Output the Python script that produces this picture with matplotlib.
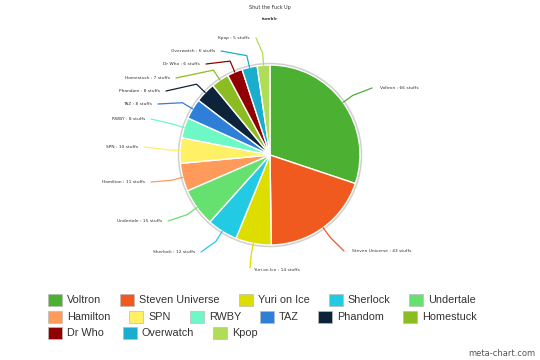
import matplotlib.pyplot as plt
import numpy as np
from matplotlib.patches import Rectangle, Circle

names = ["Voltron", "Steven Universe", "Yuri on Ice", "Sherlock", "Undertale",
         "Hamilton", "SPN", "RWBY", "TAZ", "Phandom", "Homestuck",
         "Dr Who", "Overwatch", "Kpop"]
counts = [66, 43, 14, 12, 15, 11, 10, 8, 8, 8, 7, 6, 6, 5]
colors = ["#4cb032", "#f05a1e", "#dddd00", "#22cbe3", "#66e06e",
          "#ff9a5a", "#fff066", "#6ef8c6", "#2f7ed8", "#0d233a", "#8bbc21",
          "#910000", "#1aadce", "#b0dd58"]

# label anchor (x, y, ha) in pixels, y measured from bottom
label_pos = [(380, 272, 'left'), (352, 109, 'left'), (277, 90, 'center'),
             (195, 108, 'right'), (162, 139, 'right'), (145, 178, 'right'),
             (138, 213, 'right'), (145, 241, 'right'), (152, 256, 'right'),
             (160, 269, 'right'), (170, 282, 'right'), (200, 296, 'right'),
             (215, 309, 'right'), (250, 322, 'right')]

fig = plt.figure(figsize=(5.4, 3.6), dpi=100)
ax = fig.add_axes([0, 0, 1, 1])

cx, cy, r = 270, 205, 90
ax.add_patch(Circle((cx, cy), r + 1.2, fc='none', ec='#d0d0d0', lw=1.5, zorder=0))
wedges, _ = ax.pie(counts, colors=colors, startangle=90, counterclock=False,
                   center=(cx, cy), radius=r, frame=True,
                   wedgeprops=dict(edgecolor='white', linewidth=1))
ax.set_xlim(0, 540)
ax.set_ylim(0, 360)
ax.set_aspect('equal')
ax.axis('off')

for w, name, n, col, (lx, ly, ha) in zip(wedges, names, counts, colors, label_pos):
    mid = np.deg2rad((w.theta1 + w.theta2) / 2)
    px, py = cx + r * np.cos(mid), cy + r * np.sin(mid)
    bx, by = cx + (r + 12) * np.cos(mid), cy + (r + 12) * np.sin(mid)
    if ha == 'left':
        ex, ey = lx - 8, ly
    elif ha == 'right':
        ex, ey = lx + 6, ly
    else:
        ex, ey = lx - 27, ly + 2
    ax.plot([px, bx, ex], [py, by, ey], color=col, lw=0.9, solid_capstyle='round')
    ax.text(lx, ly, f"{name} : {n} stuffs", fontsize=3.2, color='#333333',
            ha=ha, va='center')

ax.text(270, 352, "Shut the Fuck Up", fontsize=3.5, color='#333333', ha='center', va='center')
ax.text(270, 341, "tumblr", fontsize=3, color='#333333', ha='center', va='center',
        fontweight='bold')

# legend, flow layout
leg_font = dict(fontsize=7.8, family='Liberation Sans', color='#333333', va='center')
fig.canvas.draw()
renderer = fig.canvas.get_renderer()
x0, x, row_y = 48, 48, 60
max_x = 495
for name, col in zip(names, colors):
    t = ax.text(0, 0, name, **leg_font)
    tw = t.get_window_extent(renderer).width
    t.remove()
    if x + 19 + tw > max_x:
        x = x0
        row_y -= 16.5
    ax.add_patch(Rectangle((x, row_y - 6), 14, 12, fc=col, ec='#bbbbbb', lw=0.5))
    ax.text(x + 19, row_y, name, **leg_font)
    x += 19 + tw + 19

ax.text(535, 7, "meta-chart.com", fontsize=6, color='#555555', ha='right', va='center')

fig.savefig("out.png", dpi=100)
